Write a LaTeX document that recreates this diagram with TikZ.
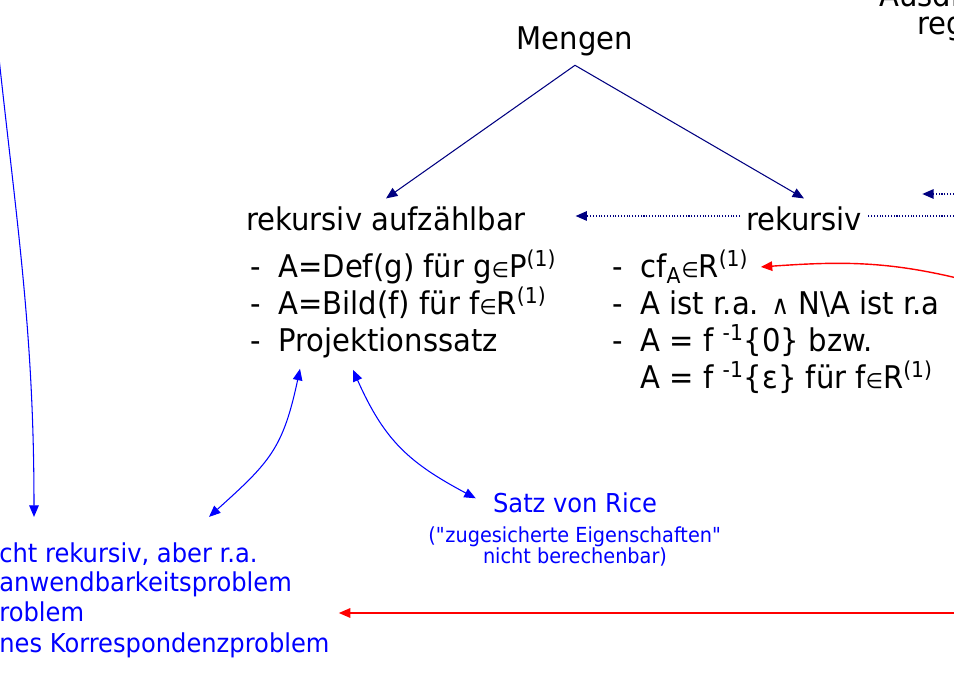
\documentclass[tikz,border=0pt]{standalone}
\usepackage{fontspec}
\setmainfont{DejaVu Sans}[FakeStretch=0.93]
\usetikzlibrary{arrows.meta}

\definecolor{navy}{RGB}{0,0,128}
\newcommand{\grossschrift}{\fontsize{17.8}{21}\selectfont}
\newcommand{\blauschrift}{\fontsize{14.8}{17}\selectfont}
\newcommand{\kleinschrift}{\fontsize{11.8}{13}\selectfont}
\newcommand{\strich}[1]{\makebox[16pt][l]{-}#1}
\newcommand{\inmenge}{{\fontsize{12}{12}\selectfont ∈}}
\newcommand{\undzeichen}{{\fontsize{15}{15}\selectfont ∧}}

\begin{document}
\begin{tikzpicture}[
    x=0.02cm, y=-0.02cm,
    begriff/.style={
        font=\grossschrift, inner sep=3pt, outer sep=2pt, anchor=base
    },
    zeile/.style={
        font=\grossschrift, inner sep=0pt, anchor=base west
    },
    blauzeile/.style={
        font=\blauschrift, text=blue, inner sep=0pt, anchor=base west
    },
    rice/.style={
        text=blue, inner sep=0pt, anchor=base
    },
    navypfeil/.style={-{Triangle[length=6.5pt,width=5.4pt]}, draw=navy, line width=0.6pt},
    punktpfeil/.style={navypfeil, densely dotted, line width=0.9pt},
    einpfeil/.style={-{Triangle[length=6.5pt,width=5.4pt]}, draw=blue, line width=0.6pt},
    blaupfeil/.style={{Triangle[length=6.5pt,width=5.4pt]}-{Triangle[length=6.5pt,width=5.4pt]}, draw=blue, line width=0.6pt},
    rotpfeil/.style={-{Triangle[length=6.5pt,width=5.4pt]}, draw=red, line width=0.8pt}
]
\useasboundingbox (0,0) rectangle (954,675);
\clip (0,0) rectangle (954,675);

% Oberbegriffe
\node[begriff] (mengen) at (575,50) {Mengen};
\node[begriff] (ra) at (386,231) {rekursiv aufzählbar};

% gepunktete Linie laeuft hinter "rekursiv" durch
\coordinate (rechtsA) at (965,216);
\draw[punktpfeil, shorten >=0.82cm] (rechtsA) -- (rechtsA -| ra.east);

\node[begriff, fill=white] (rek) at (804,231) {rekursiv};
\coordinate (rechtsB) at (965,194);
\draw[punktpfeil, shorten >=1.03cm] (rechtsB) -- (rechtsB -| rek.east);

\draw[navypfeil] (mengen.south) -- (ra.north);
\draw[navypfeil] (mengen.south) -- (rek.north);

% Rest oben rechts
\node[zeile] (oben1) at (879,7) {Ausdr};
\node[zeile] (oben2) at (917,35) {reg};

% Eigenschaften r.a.
\node[zeile] (ra1) at (250,278) {\strich{A=Def(g) für g\inmenge P\textsuperscript{(1)}}};
\node[zeile] (ra2) at (250,315) {\strich{A=Bild(f) für f\inmenge R\textsuperscript{(1)}}};
\node[zeile] (ra3) at (250,352) {\strich{Projektionssatz}};

% Eigenschaften rekursiv
\node[zeile] (rk1) at (612,278) {\strich{cf\textsubscript{A}\inmenge R\textsuperscript{(1)}}};
\node[zeile] (rk2) at (612,315) {\strich{A ist r.a. \undzeichen{} N\textbackslash A ist r.a}};
\node[zeile] (rk3) at (612,352) {\strich{A = f \textsuperscript{-1}\{0\} bzw.}};
\node[zeile] (rk4) at (612,389) {\makebox[16pt]{}A = f \textsuperscript{-1}\{ε\} für f\inmenge R\textsuperscript{(1)}};

% nicht rekursiv, aber r.a.
\node[blauzeile] (nr1) at (-1,562) {cht rekursiv, aber r.a.};
\node[blauzeile] (nr2) at (-1,592) {anwendbarkeitsproblem};
\node[blauzeile] (nr3) at (-1,622) {roblem};
\node[blauzeile] (nr4) at (-1,652) {nes Korrespondenzproblem};

% Satz von Rice
\node[rice, font=\blauschrift] (rice1) at (575,513) {Satz von Rice};
\node[rice, font=\kleinschrift] (rice2) at (575,542) {(\textquotedbl zugesicherte Eigenschaften\textquotedbl};
\node[rice, font=\kleinschrift] (rice3) at (575,563) {nicht berechenbar)};

% blaue Pfeile
\coordinate (links) at (-4,30);
\draw[einpfeil] (links) to[out=-84,in=90] ([shift={(35,-25)}]nr1.north west);
\draw[blaupfeil] ([shift={(50,10)}]ra3.south west) to[out=-102,in=42,looseness=1.2] ([shift={(210,-25)}]nr1.north west);
\draw[blaupfeil] ([shift={(103,11)}]ra3.south west) to[out=-66,in=152,looseness=1.1] ([shift={(-17,-5)}]rice1.west);

% rote Pfeile
\coordinate (rechtsC) at (965,280);
\draw[rotpfeil] (rechtsC) to[out=166,in=4] ([xshift=0.24cm]rk1.east);
\coordinate (rechtsD) at (965,613);
\draw[rotpfeil, shorten >=0.18cm] (rechtsD) -- (rechtsD -| nr4.east);

\end{tikzpicture}
\end{document}
